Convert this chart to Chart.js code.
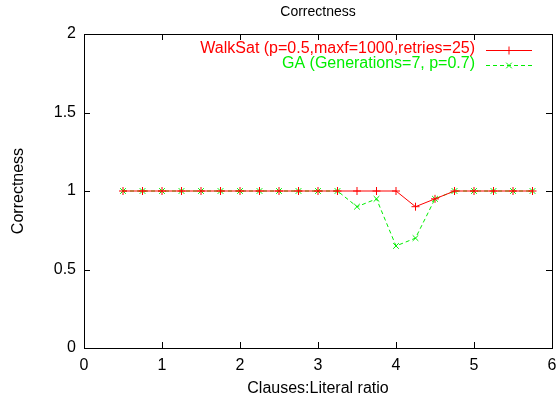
<!DOCTYPE html>
<html>
<head>
<meta charset="utf-8">
<script src="https://cdn.jsdelivr.net/npm/chart.js@4.4.0/dist/chart.umd.min.js"></script>
<style>
  html, body { margin: 0; padding: 0; background: #fff; }
  #wrap { width: 557px; height: 398px; }
</style>
</head>
<body>
<div id="wrap"><canvas id="chart" width="557" height="398"></canvas></div>
<script>
  // ── Data ───────────────────────────────────────────────
  const ratios = [0.5, 0.75, 1, 1.25, 1.5, 1.75, 2, 2.25, 2.5, 2.75, 3, 3.25,
                  3.5, 3.75, 4, 4.25, 4.5, 4.75, 5, 5.25, 5.5, 5.75];
  const walksat = [1, 1, 1, 1, 1, 1, 1, 1, 1, 1, 1, 1,
                   1, 1, 1, 0.9, 0.95, 1, 1, 1, 1, 1];
  const ga = [1, 1, 1, 1, 1, 1, 1, 1, 1, 1, 1, 1,
              0.9, 0.95, 0.65, 0.7, 0.95, 1, 1, 1, 1, 1];
  const seriesLabels = ["WalkSat (p=0.5,maxf=1000,retries=25)", "GA (Generations=7, p=0.7)"];
  const chartTitle = "Correctness";

  const FONT = "'Liberation Sans', Arial, sans-serif";
  const pts = (ys) => ratios.map((x, i) => ({ x, y: ys[i] }));

  // title over the plot, frame, inward ticks on all four sides, gnuplot-style key
  const framePlugin = {
    id: "frame",
    afterDraw(chart) {
      const { ctx, chartArea: a, scales } = chart;
      ctx.save();

      ctx.fillStyle = "#000";
      ctx.font = "14px " + FONT;
      ctx.textAlign = "center";
      ctx.textBaseline = "middle";
      ctx.fillText(chartTitle, (a.left + a.right) / 2, 12);

      ctx.strokeStyle = "#000";
      ctx.lineWidth = 1;
      ctx.strokeRect(Math.round(a.left) + 0.5, Math.round(a.top) + 0.5,
                     Math.round(a.right - a.left), Math.round(a.bottom - a.top));
      const tick = 6;
      ctx.beginPath();
      scales.x.ticks.forEach((t) => {
        const px = Math.round(scales.x.getPixelForValue(t.value)) + 0.5;
        ctx.moveTo(px, a.bottom); ctx.lineTo(px, a.bottom - tick);
        ctx.moveTo(px, a.top); ctx.lineTo(px, a.top + tick);
      });
      scales.y.ticks.forEach((t) => {
        const py = Math.round(scales.y.getPixelForValue(t.value)) + 0.5;
        ctx.moveTo(a.left, py); ctx.lineTo(a.left + tick, py);
        ctx.moveTo(a.right, py); ctx.lineTo(a.right - tick, py);
      });
      ctx.stroke();

      // key
      ctx.font = "16px " + FONT;
      ctx.textAlign = "right";
      ctx.textBaseline = "middle";
      chart.data.datasets.forEach((ds, i) => {
        const y = a.top + 15 + i * 15;
        const textRight = a.right - 77;
        const x0 = a.right - 66, x1 = a.right - 20, xm = (x0 + x1) / 2;
        ctx.fillStyle = ds.borderColor;
        ctx.fillText(ds.label, textRight, y);
        ctx.strokeStyle = ds.borderColor;
        ctx.setLineDash(ds.borderDash || []);
        ctx.beginPath();
        ctx.moveTo(x0, y + 1.5); ctx.lineTo(x1, y + 1.5);
        ctx.stroke();
        ctx.setLineDash([]);
        Chart.helpers.drawPoint(ctx, {
          pointStyle: ds.pointStyle, radius: ds.pointRadius, borderWidth: 1
        }, xm, y + 1.5);
      });
      ctx.restore();
    }
  };

  new Chart(document.getElementById("chart"), {
    type: "scatter",
    data: {
      datasets: [
        {
          label: seriesLabels[0],
          data: pts(walksat),
          showLine: true,
          borderColor: "#ff0000",
          backgroundColor: "#ff0000",
          borderWidth: 1,
          pointStyle: "cross",
          pointRadius: 4,
          pointBorderWidth: 1,
        },
        {
          label: seriesLabels[1],
          data: pts(ga),
          showLine: true,
          borderColor: "#00ee00",
          backgroundColor: "#00ee00",
          borderWidth: 1,
          borderDash: [4, 3],
          pointStyle: "crossRot",
          pointRadius: 4,
          pointBorderWidth: 1,
        },
      ],
    },
    options: {
      responsive: false,
      animation: false,
      layout: { padding: { top: 34, right: 5, bottom: 0, left: 0 } },
      plugins: {
        legend: { display: false },
        tooltip: { enabled: false },
        title: { display: false },
      },
      scales: {
        x: {
          type: "linear",
          min: 0, max: 6,
          grid: { display: false, drawTicks: false },
          border: { display: false },
          ticks: { stepSize: 1, color: "#000", padding: 8, font: { family: FONT, size: 16 } },
          title: {
            display: true, text: "Clauses:Literal ratio", color: "#000",
            font: { family: FONT, size: 16 }, padding: { top: 4, bottom: 0 },
          },
          afterFit: (s) => { s.height = 50; s.paddingLeft = 0; s.paddingRight = 0; },
        },
        y: {
          min: 0, max: 2,
          grid: { display: false, drawTicks: false },
          border: { display: false },
          ticks: {
            stepSize: 0.5, color: "#000", padding: 8,
            font: { family: FONT, size: 16 },
            callback: (v) => String(v),
          },
          title: {
            display: true, text: "Correctness", color: "#000",
            font: { family: FONT, size: 16 }, padding: { top: 9, bottom: 0 },
          },
          afterFit: (s) => { s.width = 84; s.paddingTop = 0; s.paddingBottom = 0; },
        },
      },
    },
    plugins: [framePlugin],
  });
</script>
</body>
</html>
